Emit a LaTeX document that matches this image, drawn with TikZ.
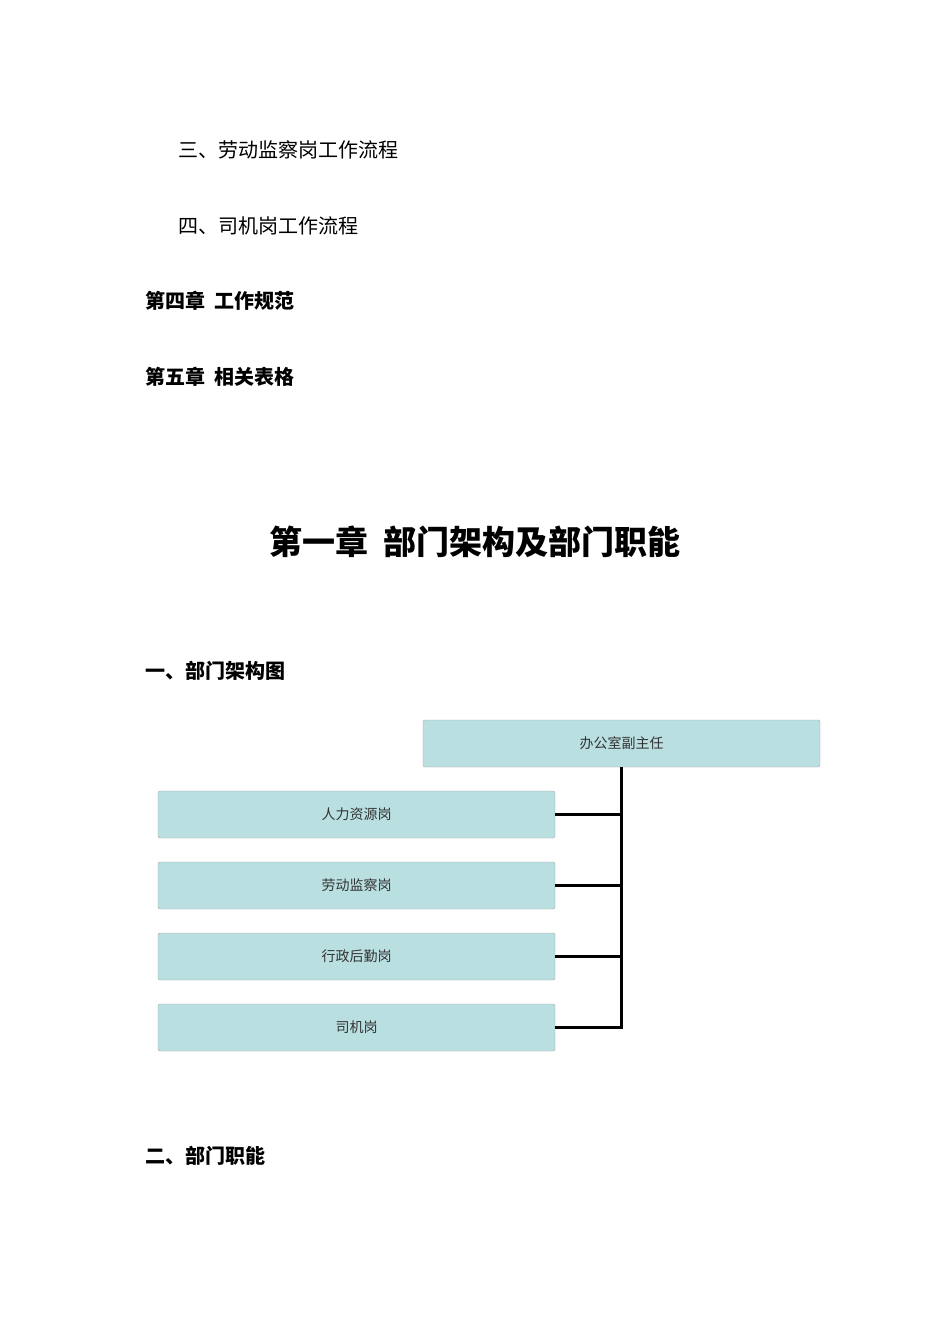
\documentclass[tikz,border=0pt]{standalone}
\usepackage{fontspec}
\setmainfont{Noto Sans CJK SC}
\begin{document}
\begin{tikzpicture}[x=1pt,y=-1pt,
  tx/.style={anchor=west,inner sep=0pt,font=\fontsize{20}{22}\selectfont},
  hd/.style={anchor=west,inner sep=0pt,font=\fontsize{20}{22}\selectfont\bfseries},
  org/.style={draw=black!35,fill=cyan!10!teal!25!white,fill=boxc,rounded corners=2pt,minimum width=397pt,minimum height=47pt,inner sep=0pt,font=\fontsize{14}{16}\selectfont,text=black!80},
  link/.style={line width=3pt}]
\definecolor{boxc}{HTML}{BADFE1}
\useasboundingbox (0,0) rectangle (950,1344);
\node[tx] (a) at (178,150) {三、劳动监察岗工作流程};
\node[tx] (b) at (178,226) {四、司机岗工作流程};
\node[hd] (c) at (145,301) {第四章\ \ 工作规范};
\node[hd] (d) at (145,377) {第五章\ \ 相关表格};
\node[inner sep=0pt,font=\fontsize{33}{36}\selectfont\bfseries] (t) at (475,542) {第一章\ \ 部门架构及部门职能};
\node[hd] (e) at (145,671) {一、部门架构图};
\node[hd] (f) at (145,1156) {二、部门职能};
\node[org] (top) at (621.5,743.5) {办公室副主任};
\node[org] (n1) at (356.5,814.5) {人力资源岗};
\node[org] (n2) at (356.5,885.5) {劳动监察岗};
\node[org] (n3) at (356.5,956.5) {行政后勤岗};
\node[org] (n4) at (356.5,1027.5) {司机岗};
\draw[link] (top.south) -- (top.south |- n4.east) -- (n4.east);
\draw[link] (n1.east) -- (top.south |- n1.east);
\draw[link] (n2.east) -- (top.south |- n2.east);
\draw[link] (n3.east) -- (top.south |- n3.east);
\end{tikzpicture}
\end{document}
